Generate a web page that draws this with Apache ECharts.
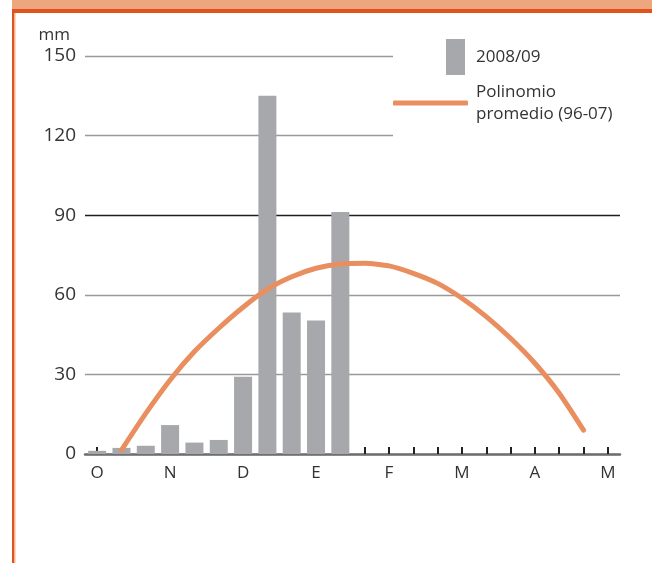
<!DOCTYPE html>
<html>
<head>
<meta charset="utf-8">
<script src="https://cdn.jsdelivr.net/npm/echarts@6/dist/echarts.min.js"></script>
<style>
  html, body { margin: 0; padding: 0; background: #fff; }
  #chart { width: 652px; height: 563px; }
</style>
</head>
<body>
<div id="chart"></div>
<script>
// decades (3 per month) from October to May
const decades = [
  'O1', 'O2', 'O3', 'N1', 'N2', 'N3', 'D1', 'D2', 'D3', 'E1', 'E2', 'E3',
  'F1', 'F2', 'F3', 'M1', 'M2', 'M3', 'A1', 'A2', 'A3', 'My1'
]
const monthLabels = ['O', 'N', 'D', 'E', 'F', 'M', 'A', 'M']
// precipitation 2008/09 (mm)
const rain0809 = [1.2, 2.3, 3.1, 10.9, 4.3, 5.3, 29.1, 135, 53.3, 50.3, 91.2]
// polynomial of the 96-07 average
const polyAvg = [null, 1.5, 15.3, 27.9, 38.6, 47.4, 55.3, 62.1, 66.8, 70.0, 71.6,
  71.9, 70.9, 68.1, 64.3, 58.7, 51.8, 43.6, 34.2, 22.9, 9.0]
const yTicks = { min: 0, max: 150, interval: 30 }

const barName = '2008/09'
const lineName = 'Polinomio\npromedio (96-07)'
const font = '"Open Sans", "Noto Sans", sans-serif'
const txt = '#333'

const chart = echarts.init(document.getElementById('chart'))
chart.setOption({
  animation: false,
  textStyle: { fontFamily: font },
  grid: { left: 85, right: 32, top: 56, bottom: 109 },
  graphic: [
    // marco naranja
    { type: 'rect', shape: { x: 12, y: 0, width: 640, height: 9 }, style: { fill: '#eea67e' } },
    { type: 'rect', shape: { x: 12, y: 9, width: 640, height: 4 }, style: { fill: '#e0531e' } },
    { type: 'rect', shape: { x: 12, y: 9, width: 2, height: 554 }, style: { fill: '#e0531e' } },
    { type: 'rect', shape: { x: 14, y: 13, width: 1.5, height: 550 }, style: { fill: '#f3b592' } },
    // fondo blanco tras la leyenda
    { type: 'rect', z: 1, shape: { x: 393, y: 36, width: 229, height: 104 }, style: { fill: '#fff' } }
  ],
  legend: [
    {
      data: [barName],
      left: 446, top: 39, padding: 0,
      icon: 'rect', itemWidth: 19, itemHeight: 36,
      textStyle: { fontSize: 17, color: txt, fontFamily: font, padding: [0, 0, 0, 6] }
    },
    {
      data: [lineName],
      left: 393, top: 81, padding: 0,
      icon: 'roundRect', itemWidth: 75, itemHeight: 5,
      textStyle: { fontSize: 17, color: txt, fontFamily: font, lineHeight: 22, padding: [0, 0, 0, 3] }
    }
  ],
  xAxis: {
    type: 'category',
    data: decades,
    z: 1,
    axisLine: { lineStyle: { color: '#6f6f70', width: 2.5 } },
    axisTick: {
      show: true, alignWithLabel: true, interval: 0, inside: true, length: 7,
      lineStyle: { color: '#222', width: 2 }
    },
    axisLabel: {
      interval: 0, margin: 11, fontSize: 17, color: txt, fontFamily: font,
      formatter: (v, i) => (i % 3 === 0 ? monthLabels[i / 3] : '')
    },
    splitLine: { show: false }
  },
  yAxis: {
    type: 'value',
    min: yTicks.min, max: yTicks.max, interval: yTicks.interval,
    name: 'mm',
    nameLocation: 'end',
    nameGap: 12,
    nameTextStyle: { fontSize: 17, color: txt, fontFamily: font, align: 'right', padding: [0, 15, 0, 0] },
    axisLine: { show: false },
    axisTick: { show: false },
    axisLabel: { margin: 9, fontSize: 19, color: txt, fontFamily: font },
    splitLine: { lineStyle: { color: ['#999', '#999', '#999', '#1e1e1e', '#999', '#999'], width: 1.3 } }
  },
  series: [
    {
      name: barName,
      type: 'bar',
      data: rain0809,
      barWidth: 18,
      z: 2,
      itemStyle: { color: '#a7a8ac' }
    },
    {
      name: lineName,
      type: 'line',
      data: polyAvg,
      showSymbol: false,
      smooth: 0.2,
      itemStyle: { color: '#e98f5f' },
      lineStyle: { color: '#e98f5f', width: 5, cap: 'round' },
      z: 6
    }
  ]
})
</script>
</body>
</html>
